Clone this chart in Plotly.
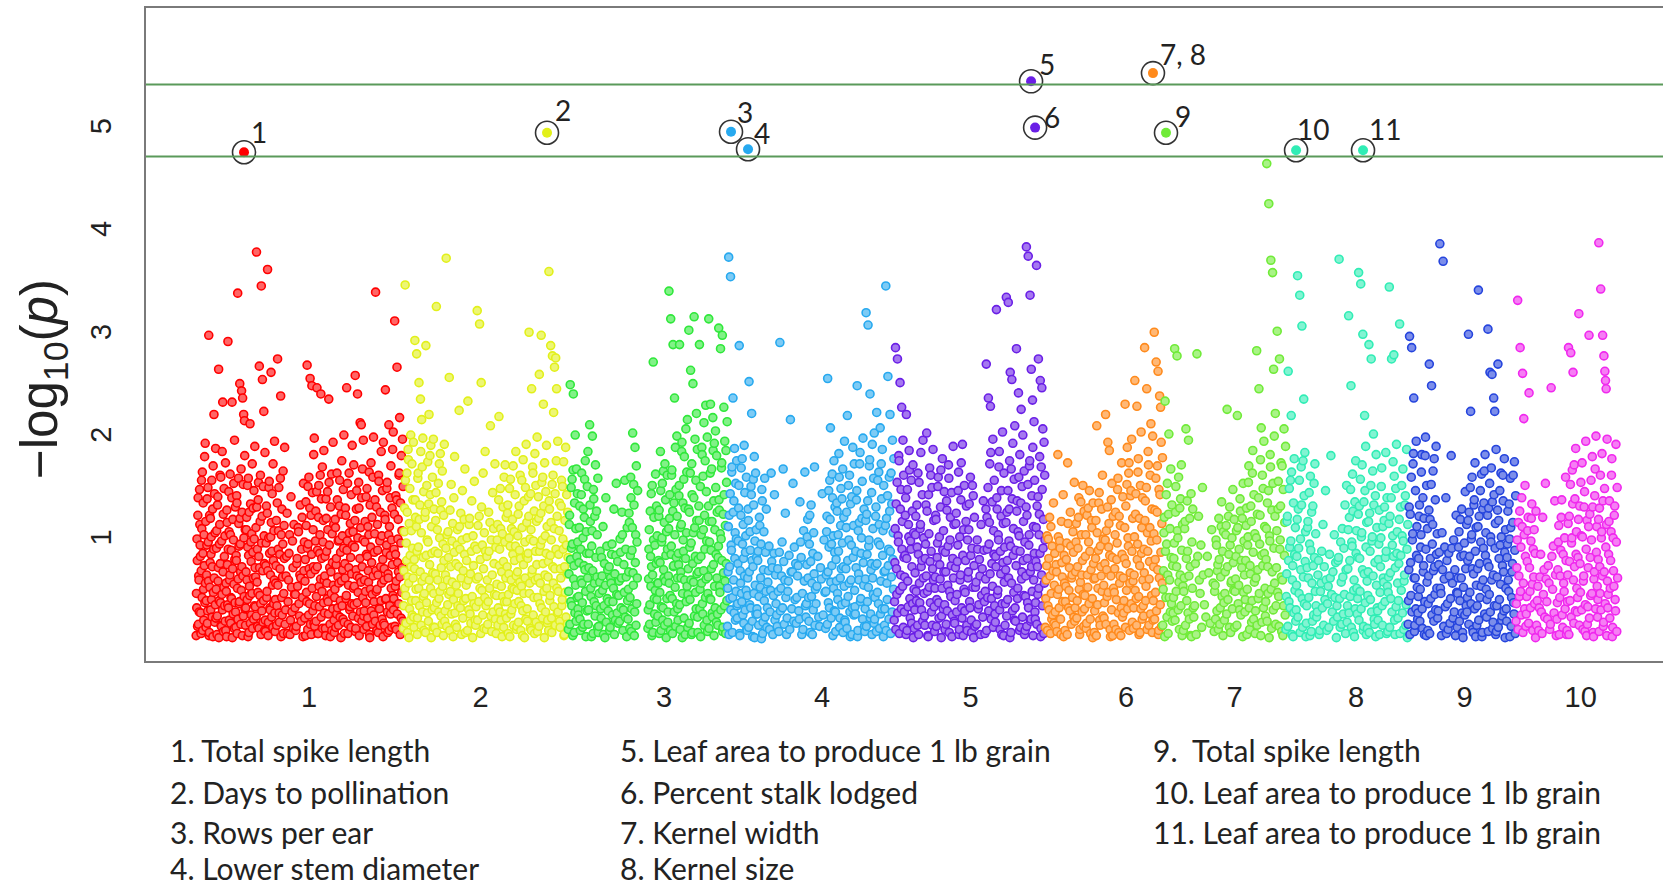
import numpy as np
import plotly.graph_objects as go

# ---------------- data ----------------
chrom_names = ["1", "2", "3", "4", "5", "6", "7", "8", "9", "10"]
chrom_len_mb = [307.0, 244.4, 235.7, 247.0, 223.9, 174.0, 182.4, 181.1, 159.8, 151.0]
chrom_colors = ["#FF0000", "#E2F01A", "#2FE83A", "#27A9EF", "#6A1FE6",
                "#FF8A1C", "#70EB38", "#30EDB5", "#2544DD", "#F028EE"]
tick_pos_mb = [167.4, 421.6, 693.3, 927.4, 1147.4, 1377.8, 1538.5, 1718.5, 1879.4, 2051.3]

# -log10(p) values per chromosome, grouped into consecutive position bins
chr1_bins = [
    [.04,.31,.77,1.21,.15,.58,1.46,.92,.26,.67,1.08,.41,1.63,.09,.84,1.33,.49,.19,1.02,.72,1.78,.36,1.91,.55,1.15],
    [.12,.63,1.37,.28,.95,2.96,.07,.51,1.18,.83,.39,1.55,.22,.71,1.27,.03,1.69,.46,.88,2.19,.6,1.42,.17,1.04,.34,1.86],
    [.21,.89,.05,1.31,.57,2.63,.38,1.12,.74,1.58,.13,.96,.44,1.83,.29,2.31,.66,1.22,.08,.51,1.47,.81,.33,1.01,.18,1.72],
    [.09,.47,1.26,.73,2.9,.31,1.05,.58,1.61,.16,.87,.4,1.38,2.31,.02,.69,1.17,.25,.97,1.52,.54,.11,1.94,.78,.36,1.29],
    [.27,.82,1.4,.06,3.37,.59,1.13,.35,2.49,.93,.15,1.66,.48,2.42,.71,1.24,.04,2.35,.62,1.51,.23,2.19,.99,.42,2.13,1.79,.3,1.07],
    [.14,.66,1.19,.39,.9,1.57,.07,.52,2.1,1.32,.76,.24,1.03,.45,1.71,.11,.85,1.28,.6,.2,1.45,.98,.33,1.88,.7],
    [.32,1.09,3.77,.56,.13,1.36,.81,2.66,.43,1.6,.05,3.44,.94,.28,1.2,2.53,.67,.17,1.49,.38,2.22,1.01,.74,.09,1.82],
    [.19,.72,1.3,.47,3.6,.04,.99,1.54,.31,.63,2.6,1.14,.22,.86,1.42,.53,.12,1.71,.77,.35,1.06,.58,1.93,.26],
    [.08,.55,1.16,.33,2.73,.88,1.48,.17,.69,2.37,1.02,.41,1.27,.24,.61,.93,1.64,.06,.45,1.11,.79,1.87],
    [.15,.62,1.23,.37,.84,.05,1.39,.51,.27,.96,.7,.11,1.12,.44],
    [.31,.09,.74,.52,1.05,.23,1.31,.6,.18,.88,1.19,.41,.03,1.52,.67,.95],
    [.21,.78,1.34,.46,2.67,.1,.93,1.58,.35,2.54,.64,1.21,.05,.83,2.47,.5,1.43,.28,1.07,.71,1.8,.16,1.96],
    [.13,.68,1.25,.42,2.45,.87,.06,1.5,.32,1.02,.59,2.39,.22,1.37,.79,.47,1.68,.11,.95,1.16,.36,1.84,.58],
    [.26,.81,.04,1.18,.55,1.44,.37,2.34,.92,.15,1.29,.66,.45,1.61,.09,1.03,.75,.3,1.92,.53,1.12,.19],
    [.07,.49,1.09,.73,.25,1.36,.61,.14,.97,1.55,.38,.85,.02,1.22,.57,1.74,.33,1.01,.68,.2,1.46,.89,1.99],
    [.17,.74,1.28,.4,2.45,.96,.06,.53,1.62,.29,1.13,.8,.12,1.41,.64,.35,1.89,.92,.23,1.05,.5,1.7],
    [.34,.9,2.57,.11,1.27,.62,2.39,.46,1.53,.04,.79,2.11,.27,1.09,.56,2.09,1.38,.18,.71,1.66,.41,.97,1.94,.23],
    [.1,.58,1.15,.36,.83,1.47,.21,.67,1.02,.05,1.31,.49,.9,1.72,.28,.75,1.19,.44,.15,1.58,.62,1.97],
    [.24,.85,1.36,3.38,.47,.09,1.12,.63,1.6,.31,.96,.14,1.24,.71,.38,1.83,.55,1.01,.2,1.45,.78,.03,1.92],
    [.16,.69,1.21,2.43,.4,.92,1.53,.07,.6,2.09,1.1,.33,1.38,.82,.25,1.69,.5,.97,.12,1.28,.73,1.85,.43,2.02],
    [.29,.88,3.1,.52,1.4,.1,2.65,.75,1.17,.35,1.62,2.16,.61,.05,1.33,.94,.21,1.79,.46,1.06,.7,1.95,.18,1.49],
]
chr1_extra = [
    [.45,.98,.13,1.38,.62,.27,1.12,.81,.06,1.55], [.38,.92,.16,1.48,.57,.04,1.21,.75,.29,1.0],
    [.49,1.06,.23,1.39,.7,.02,.93,1.6,.36,.14], [.55,.03,1.14,.34,.88,1.44,.19,.63,1.02,.41],
    [.12,.77,1.33,.5,.2,1.57,.91,.37,1.18,.66], [.31,1.07,.58,1.5,.03,.82,1.24,.43,.16,.95],
    [.61,.23,1.29,.88,.46,1.53,.11,.7,1.15,.35], [.08,.94,.41,1.23,.67,.17,1.48,.84,.29,1.0],
    [.39,.72,.14,1.33,.53,1.06,.26,.83,1.57,.03], [.29,.81,.06,.58,1.02,.19],
    [.44,.13,.79,1.09,.35,.63], [.57,.04,1.11,.37,.89,1.49,.24,.69,1.28,.15],
    [.33,.96,.18,1.44,.71,.06,1.19,.52,.84,1.6], [.62,.11,1.37,.86,.4,1.07,.25,1.53,.7,.03],
    [.41,1.17,.12,.79,1.62,.31,.96,.55,1.3,.22], [.06,.6,1.21,.43,.87,1.52,.15,.7,1.04,.32],
    [.52,1.16,.08,.68,1.45,.36,.99,.21,1.28,.6], [.28,.95,.47,1.39,.13,.81,1.1,.56,1.63,.02],
    [.37,1.03,.18,.67,1.29,.49,.87,.07,1.54,.3], [.58,.14,1.17,.39,.85,1.47,.27,.64,1.02,.09],
    [.4,1.22,.13,.83,.57,1.36,.25,.98,.66,1.6],
]
chr2_bins = [
    [.11,.67,1.28,3.45,.43,.94,1.62,.07,1.85,.55,1.13,.3,1.47,.82,.19,1.99,.71,1.06,.38,1.71,.24,.89,1.36,.6,1.92],
    [.22,.78,2.91,1.19,.49,2.78,.05,1.57,.9,2.5,.33,1.31,.66,2.34,1.83,.14,1.04,2.14,.57,1.68,.27,1.96,.8,.42,1.44],
    [.09,.61,1.24,2.86,.36,.97,1.73,.18,2.19,.73,1.41,.5,1.89,.02,1.1,.84,.29,1.58,.65,.12,1.95,.45,1.27],
    [.31,.86,1.16,3.24,.07,.58,1.52,.4,.99,1.81,.23,.7,1.34,.15,1.64,.52,.93,.04,1.21,.77,1.9],
    [.18,.63,3.71,1.02,.34,.8,2.55,.09,1.26,.47,.71,1.51,.25,.96,.56,1.13,.03,.39,1.38,.85,1.78],
    [.26,.74,.12,1.07,.45,2.23,.88,.31,1.23,.6,.05,.97,1.45,.21,.67,.38,1.17,.83,1.66],
    [.07,.53,.99,2.32,.29,1.18,.64,.16,.86,1.35,.42,.02,1.01,.72,.35,1.54,.91,.19],
    [.14,.59,3.2,1.11,.37,3.07,.78,.06,2.5,1.29,.48,.92,.24,1.62,.69,.11,1.04,.41,1.83,.86],
    [.33,.81,.15,1.24,.5,2.08,.97,.08,.63,1.43,.27,1.08,.74,.44,1.71,.2,.9],
    [.06,.54,1.12,.31,2.17,.88,1.47,.19,.66,1.03,.42,1.29,.76,.12,1.58,.37,.95,1.7,.25,.6,1.19],
    [.21,.71,1.31,.44,.99,.03,1.56,.58,.29,1.17,.83,1.69,.14,.49,1.05,.77,.35,1.41,.91,1.83,.62,.1],
    [.13,.66,1.22,.37,.87,1.6,.09,.52,1.09,.28,1.75,.73,.45,1.35,.02,.95,.6,1.48,.2,1.9,.81,1.14],
    [.3,.79,1.39,2.99,.55,.11,1.07,2.44,.68,1.62,.24,.96,.41,1.25,.06,1.81,.58,.86,1.5,.17,1.15,.73,1.97],
    [.08,.6,1.18,2.58,.35,.92,2.96,1.53,.21,.74,2.29,1.3,.47,.02,1.72,.63,1.01,.27,1.44,.84,1.89,.5,1.1,.16],
    [.19,.76,3.58,1.27,.43,2.86,.97,.07,2.76,1.6,.55,2.21,.32,1.08,2.65,.69,1.42,.14,2.74,.88,1.74,2.44,.5,1.2,.26,1.93],
    [.27,.83,1.33,.12,.6,1.55,.39,.98,1.73,.05,.71,1.16,.46,1.87,.22,.92,1.41,.64,.15,1.24,.8],
]
chr2_extra = [
    [.33,1.05,.5,1.55,.16,.77,1.24,.61,1.75,.02], [.12,.69,1.36,.38,1.1,.86,.21,1.62,.5,1.17],
    [.45,1.19,.07,.82,1.5,.26,.95,1.32,.58,1.79], [.12,.64,1.43,.36,1.07,.84,.27,1.71,.47,1.26],
    [.28,.89,.13,.58,1.05,.44], [.15,.53,.92,.33,.71,1.1], [.4,.77,.09,.58,1.12,.25],
    [.32,.88,.19,.61,1.2,.5], [.1,.58,.37,.86,1.14,.23], [.43,.97,.14,1.36,.72,.27,1.08,.52,.03],
    [.37,1.23,.06,.64,1.47,.91,.25,1.08,.5], [.48,1.01,.17,1.3,.56,.79,.33,1.55,.04],
    [.18,.84,1.2,.45,.98,1.42,.09,.64,1.68], [.41,1.39,.13,.86,.55,1.23,.31,.97,1.58],
    [.61,.09,1.35,.38,.82,1.14,.21,1.51,.71], [.47,1.06,.18,.69,1.3,.33,1.49,.88,.04],
]
chr3_bins = [
    [.1,.64,1.21,2.48,.37,.89,1.56,.04,2.39,.72,1.33,.26,1.99,.53,1.08,.18,1.66,.81,.41,1.42,.95,.3],
    [.24,.75,1.3,.09,.58,1.62,.36,.99,.15,1.19,.68,1.74,.47,.03,1.05,.84,.28,1.49,.6,1.83],
    [.15,.7,2.09,1.15,.42,.91,1.98,.06,1.37,.55,.23,1.7,.8,.33,1.25,.61,1.02,.12,1.57],
    [.07,.45,.86,.21,.62,1.1,.33,.74,.02,.53,1.38,.17,.91,.4,.68],
    [.28,.71,.12,.55,.93,.37,1.27,.05,.64,.19,.82,1.52,.44,.26,.76],
    [.16,.57,.98,.31,1.24,.09,.73,.46,1.55,.22,.88,.61,.03,1.09,.38],
    [.2,.66,1.14,.41,1.58,.08,.87,2.01,.53,1.31,.27,1.87,.75,1.02,.14,1.69,.35,.95,.6,1.45],
    [],
    [.11,.59,1.07,.34,.81,1.42,.04,.63,2.7,1.19,.25,.92,.48,1.61,.17,.74,1.3,.39,1.01,.55],
    [.23,.77,1.26,.46,1.83,.09,.95,1.52,.31,.68,1.14,.14,1.71,.57,1.36,.82,.02,1.05,.4,1.6,.88],
    [.17,.62,3.39,1.18,.43,3.12,.91,1.65,.06,2.87,.72,1.33,.27,2.35,1.02,.51,1.87,.13,1.46,.8,.35,1.98,1.2,.6],
    [.3,.84,1.4,2.87,.1,.66,1.12,1.92,.45,.97,1.56,.21,1.78,.58,1.28,.05,.79,2.05,.37,1.04,1.63,.52,2.14],
    [.12,.69,3.01,1.24,.39,2.62,.94,1.71,.07,2.49,.56,1.38,3.14,.23,1.09,1.95,.81,.46,1.55,.3,2.2,1.16,.64,1.85],
    [.22,.78,1.3,2.87,.49,.03,1.02,1.87,.35,1.59,.67,2.11,.14,1.21,.88,1.74,.41,2.28,.59,1.44,.96,.19,1.97],
    [.08,.61,3.12,1.15,.4,2.29,.87,1.66,.26,2.16,.73,1.35,.04,1.91,.52,1.07,.31,2.03,1.48,.83,.17,1.79,.6,1.24],
    [.25,.8,3.03,1.26,.46,2.83,.98,1.72,2.96,.12,.65,2.26,1.41,.33,1.93,.57,1.11,.06,1.84,.74,1.53,.38,2.12],
]
chr3_extra = [
    [.47,1.12,.15,.78,1.48,.33,.93,1.65,.59,.07], [.42,1.09,.2,.88,1.41,.55,.12,1.27,.72,1.56],
    [.29,.84,1.31,.5,.03,1.06,.67,1.46,.37,1.2], [.13,.56,.3,.8,.48,.05], [.37,.09,.6,.83,.24,.5],
    [.43,.18,.85,.6,1.02,.29], [.49,1.23,.11,.82,1.38,.3,1.09,.65,1.51,.04], [],
    [.29,.88,.15,1.25,.52,.71,1.5,.07,.97,.4], [.55,1.2,.06,.75,1.45,.32,.99,.19,1.64,.6],
    [.27,1.08,.55,1.41,.09,.83,1.6,.4,1.25,.71], [.19,.73,1.5,.34,1.09,.6,1.83,.02,1.33,.86],
    [.44,1.27,.16,.9,1.62,.58,.05,1.41,.74,1.04], [.07,.66,1.16,.3,1.49,.81,.55,1.8,.25,1.07],
    [.45,1.3,.11,.95,1.62,.39,.69,1.15,.22,1.84], [.14,.91,1.36,.52,1.03,.29,1.67,.77,.08,1.22],
]
chr4_bins = [
    [.13,.66,3.72,1.21,.4,3.53,.92,1.63,.07,2.35,.58,1.35,.26,1.86,.79,1.04,.19,1.52,.47,.98,1.74,.33],
    [.21,.74,1.28,2.86,.04,.55,1.67,.37,.93,1.12,.16,1.89,.62,1.43,.29,.85,1.01,.48,1.58,.1],
    [.09,.6,1.16,2.51,.34,.87,1.49,2.2,.18,.71,1.31,.45,1.78,.02,.96,.53,1.62,.25,1.07,.8],
    [.3,.77,.14,1.19,.51,.93,1.46,.06,.68,1.05,.38,1.57,.22,.85,.47,1.27],
    [.12,.56,.91,.27,1.62,.7,.05,.43,.84,1.41,.19,.63,.35],
    [.24,.69,.08,2.89,.5,.95,.31,1.66,.76,.15,.58,1.23,.41],
    [.05,.47,.82,2.14,.3,.66,1.52,.18,.9,.39,.74],
    [.16,.62,.28,1.34,.8,.45,.1,1.06,.57,1.63,.33],
    [.22,.73,1.17,.41,.93,.07,1.31,.55,.84,.29,1.04,.64,1.68,.14,.49],
    [.35,.81,.13,.59,1.42,.24,.97,.46],
    [.11,.63,1.2,2.54,.36,.9,1.55,2.06,.21,.72,1.38,.04,1.01,.5,1.74,.28,.85,1.29],
    [.27,.78,1.33,.45,1.02,1.81,.12,.6,1.47,.34,.94,1.66,.07,.71,1.19,.52,1.93,.19],
    [.17,.69,1.24,2.18,.42,.97,1.6,.03,.58,1.39,.31,1.87,.8,1.11,.24,1.71,.48],
    [.32,.86,1.36,2.47,.09,.64,1.14,1.82,.4,.99,1.54,.2,1.96,.75,.53,1.27,.13],
    [.08,.59,3.18,1.22,.37,3.06,.91,1.69,2.39,.25,.74,1.43,.05,1.9,.6,1.08,.44,1.57,.16,2.01],
    [.2,.72,1.29,2.21,.46,.95,1.63,.11,2.06,.57,1.37,.3,1.85,.82,1.06,.03,1.5,.66],
    [.14,.67,3.44,1.18,.39,2.56,.88,1.58,2.19,.06,.61,1.32,.27,1.94,.78,1.04,.49,1.76],
]
chr4_extra = [
    [.5,1.1,.05,.71,1.42,.29,.87,1.68,.41,1.24], [.35,.96,1.5,.06,.67,1.21,.45,1.76,.24,.79],
    [.43,1.27,.12,.66,1.05,.31,1.41,.77,.03,1.56], [.25,.86,.42,1.11,.6,.01,1.35,.17],
    [.31,.67,.1,.48,.76], [.13,.47,.85,.28,.62], [.21,.57,.1,.66], [.41,.72,.2,.95,.05],
    [.35,1.0,.6,.18,1.21,.76,.42,.05], [.52,.22,.7],
    [.47,1.05,.15,.66,1.45,.31,1.17,.56,.93,1.61], [.08,.57,1.25,.39,.86,1.58,.21,1.11,.69,1.37],
    [.36,1.09,.11,.77,1.5,.55,.27,1.32,.92,.05], [.25,.7,1.45,.03,1.06,.58,1.71,.37,.84,1.18],
    [.3,1.16,.13,.83,1.35,.51,.97,1.75,.21,.68], [.41,1.2,.08,.74,1.55,.35,1.12,.92,.25,1.71],
    [.3,1.11,.09,.55,1.4,.72,.2,1.25,.86,1.62],
]
chr5_bins = [
    [.19,.75,2.84,1.32,.44,2.73,1.01,1.79,.06,2.5,.63,1.46,.3,2.26,.88,1.15,.52,1.94,.12,1.6,.8],
    [.27,.82,1.38,2.19,.09,.57,1.12,1.84,.4,.96,1.55,.16,.71,1.25,.35,1.7,.02,1.04,.49],
    [.11,.65,1.2,.38,.9,1.62,.05,.55,1.08,1.82,.29,.77,1.41,.18,1.94,.6,.99,.45],
    [.23,.79,1.31,2.01,.47,.03,1.03,1.67,.36,.86,1.48,.14,.69,1.85,.58,1.16,.32],
    [.08,.61,1.17,.39,.94,1.58,.21,.73,1.29,.02,.5,1.76,.87,.3,1.06,.66,1.44],
    [.34,.85,.15,1.26,.53,1.7,.07,.97,.42,1.43,.24,.79,1.88,.6,1.12,.18],
    [.16,.7,1.23,.44,.92,1.63,.1,.58,1.36,.31,1.9,.82,.04,1.07,.49,1.5],
    [.28,.77,1.3,.09,.6,1.07,.37,1.58,.19,.89,.51,1.4,.02,.72,1.19],
    [.13,.56,.97,.3,.78,.05,1.12,.43,.69,.22,1.35,.87,.37],
    [.06,.59,2.68,1.19,.41,2.35,.93,1.71,2.27,.2,.74,1.34,.52,1.95,.12,1.06,.83,1.55,.33],
    [.25,.81,3.21,1.27,.48,.97,1.83,.1,.64,1.45,.35,2.02,.75,1.13,.04,1.62,.56,.9],
    [.14,.68,3.33,1.24,.39,3.28,.96,1.74,2.6,.07,.55,2.53,1.37,.28,1.91,.82,1.08,.46,1.56,.19,2.08],
    [.31,.87,2.83,1.35,.5,2.4,1.01,1.8,.12,2.24,.66,1.49,.22,1.99,.77,1.15,.43,1.64,.05,.95],
    [.09,.62,3.82,1.21,.36,3.73,.92,1.69,3.35,.18,2.63,.71,1.4,.47,2.33,1.87,.04,1.1,.58,2.12,.84,1.55,.27],
    [.2,.76,3.64,1.3,.44,2.73,1.02,1.78,2.52,.11,.63,2.45,1.46,.33,2.05,.89,1.17,.06,1.92,.55,1.6,.97],
]
chr5_extra = [
    [.37,1.08,.1,.69,1.53,.26,.95,1.74,.48,1.27], [.61,1.21,.05,.79,1.46,.32,1.0,1.65,.21,.88],
    [.29,1.02,.47,1.31,.14,.83,1.53,.36,1.12,.71], [.14,.93,.62,1.25,.04,1.41,.51,.76,1.6,.27],
    [.5,1.21,.13,.8,1.49,.36,1.0,.59,1.65,.23], [.1,.66,1.35,.28,.91,1.57,.47,1.19,.72,.03],
    [.38,1.13,.27,.76,1.45,.05,1.0,.63,1.72,.21], [.46,1.15,.14,.97,.66,1.32,.31,.82,.07,1.5],
    [.51,.15,.88,.34,.62], [.47,1.27,.09,.88,1.48,.28,1.14,.64,1.82,.4],
    [.17,.71,1.38,.44,1.02,1.68,.29,.86,1.2,.05], [.35,1.14,.23,.77,1.45,.6,1.27,.02,.91,1.66],
    [.18,.72,1.25,.4,1.05,1.58,.09,.86,1.33,.59], [.42,1.29,.13,.79,1.51,.31,1.02,1.74,.66,.2],
    [.36,1.09,.15,.71,1.39,.5,1.22,.84,.03,1.68],
]
chr6_bins = [
    [.12,.58,1.01,.33,.79,1.19,.06,.45,.91,.24,.67,1.33,.16,.53,.84],
    [.27,.73,.08,1.8,.49,.96,.2,1.15,.61,.37,1.41,.03,.82,.55],
    [.09,.52,.94,1.72,.31,.7,1.24,.15,.63,.41,1.05,.85,.22,1.53],
    [.18,.66,1.13,.38,.89,1.38,.05,.56,1.02,.27,.77,1.5,.44,.13,1.25],
    [.3,.81,.11,1.21,.51,.95,1.45,.2,.68,1.09,.4,.02,1.33,.74,.59],
    [.07,.6,1.16,2.08,.34,.87,1.43,.14,.71,1.27,.47,1.6,.23,.98,.53],
    [.21,.74,2.19,1.06,.42,1.92,.9,1.84,.1,.62,1.36,.29,1.52,.8,.04,1.2,.5],
    [.15,.69,1.24,.39,.94,1.57,.07,.55,1.11,.31,1.72,.83,.22,1.39,.6],
    [.26,.79,2.29,1.3,.48,1.87,.99,1.62,.09,.65,1.45,.35,1.95,.86,.17,1.18,.57],
    [.11,.63,2.52,1.22,.4,2.27,.93,1.76,.05,.72,1.5,.3,2.02,.84,1.09,.2,1.38,.58],
    [.33,.88,2.84,1.35,.52,2.44,1.04,1.83,.14,.76,1.6,.25,2.1,.96,.43,1.27,.07,1.98],
    [.19,.71,2.99,1.26,.46,2.7,.97,1.69,2.61,.09,.6,2.37,1.41,.34,2.26,.85,1.92,.13,1.13,.55,1.77],
]
chr6_extra = [
    [.4,.72,.09,.98,.29,.62,1.1,.2], [.14,.66,.44,1.0,.31,.89,.05,.75], [.37,.78,.05,1.13,.48,.28,.91,.6],
    [.31,.95,.21,.71,1.19,.49,.1,1.34,.63], [.43,1.02,.16,.63,1.28,.35,.86,.06,1.16],
    [.28,.79,.04,1.04,.5,1.33,.19,.91,.62], [.36,.97,.15,.68,1.29,.46,1.13,.82,.03],
    [.46,1.02,.1,.78,1.46,.26,1.2,.62,.04], [.38,1.09,.12,.74,1.51,.3,.91,1.72,.55,1.4],
    [.31,1.0,.48,1.42,.14,.78,1.63,.42,1.18,.07], [.23,.65,1.16,.38,1.48,.1,.86,1.7,.59,1.09],
    [.38,1.03,.2,.78,1.57,.28,1.24,.68,.05,1.46],
]
chr7_bins = [
    [.14,.67,1.19,2.32,.41,.93,1.52,.06,2.0,.58,1.08,.27,1.66,.8,.35,1.31,.18,.72],
    [.26,.79,2.83,1.24,.47,2.76,.99,1.58,.1,.63,1.37,.33,1.7,.87,.04,1.12,.52],
    [.09,.6,1.15,2.05,.38,.86,1.94,.2,.71,1.42,.03,.95,.5,1.27,.31],
    [.22,.74,2.78,1.2,.45,.92,.12,1.48,.63],
    [.34,.81,.16,1.07,.55],
    [.08,.53,.97,.28,.73,1.18,.15,.61,1.34,.42,.86,.04,1.05,.36],
    [.19,.66,1.11,2.24,.39,.83,1.29,.07,.57,.99,.3,1.46,.75,.48,1.17],
    [.12,.59,1.06,2.18,.35,.88,1.37,.24,.7,1.18,.03,1.52,.46,.96,.63],
    [.27,.77,1.28,.49,1.0,1.69,.1,.64,1.15,.38,1.84,.85,.2,1.41,.56,1.03],
    [.06,.6,2.81,1.22,.4,2.44,.93,1.75,2.06,.17,.72,1.47,.31,1.93,.84,1.1,.5],
    [.23,.78,4.63,1.33,.45,4.24,1.01,1.8,3.69,.11,.66,3.57,1.52,.29,2.63,.89,1.98,.55,1.2,2.2],
    [.15,.7,3.0,1.27,.42,2.73,.97,1.72,.08,.58,1.46,.33,2.05,.82,1.14,.24,1.88],
]
chr7_extra = [
    [.49,1.04,.03,.86,1.41,.22,.63,1.22,.41], [.41,.94,.19,1.49,.71,1.06,.29,.56,1.28],
    [.47,1.08,.14,.79,1.35,.26,.62,1.18,.04], [.33,.05,.81,.58], [.22,.65],
    [.47,.2,.92,.67,.1,.78,.31,1.1], [.45,1.02,.25,.71,1.2,.12,.92,.55],
    [.47,.81,.14,1.09,.53,.29,1.25,.77], [.39,1.11,.05,.92,1.53,.31,.72,1.3,.17,1.62],
    [.28,.99,.14,.68,1.38,.45,1.21,.04,.82,1.6], [.37,1.08,.18,.71,1.45,.02,.96,1.68,.49,1.26],
    [.33,1.06,.46,1.54,.13,.88,1.3,.61,1.69,.04],
]
chr8_bins = [
    [.1,.64,1.2,2.61,.37,.9,1.55,2.18,.05,.72,1.33,.26,1.76,.83,.48,1.09,.18],
    [.29,.81,3.54,1.27,.45,3.35,.98,1.68,3.05,.12,.61,2.34,1.4,.35,1.82,.76,1.05,.03],
    [.16,.7,1.15,.41,.93,1.59,.08,.55,1.3,.24,.8,1.71,.47,1.03,.33],
    [.22,.63,.05,.47,.86,.31,1.12,.14,.71,.39,1.45,.58],
    [.09,.52,.83,1.79,.27,.66,.18,1.02,.41,.75,.02],
    [.33,.77,3.7,.12,.56,1.08,.25,.89,.44,1.31,.06,.68,1.5],
    [.17,.69,3.15,1.19,.42,2.47,.95,1.61,.07,.58,1.34,.3,1.74,.84,1.06,.5],
    [.25,.8,3.57,1.3,.47,3.46,1.0,1.7,2.97,.13,.64,2.18,1.45,.36,1.88,.9,.05,1.14,.57],
    [.11,.66,2.87,1.23,.39,2.73,.96,1.64,2.0,.2,.75,1.4,.03,1.8,.53,1.09,.31],
    [.28,.78,1.26,.46,.99,1.67,.14,.6,1.16,.37,1.82,.86,.06,1.38,.52],
    [.08,.61,3.43,1.2,.4,2.73,.92,1.73,2.77,.19,.7,1.47,.32,1.9,.84,1.05,.55],
    [.21,.74,3.07,1.29,.48,1.01,1.66,.1,.63,1.4,.34,1.85,.88,.02,1.12],
]
chr8_extra = [
    [.42,1.15,.13,.77,1.47,.31,.96,1.63,.58,.03], [.53,1.17,.22,.89,1.55,.07,.68,1.31,.4,1.74],
    [.33,1.09,.6,1.43,.04,.87,1.24,.18,.72,1.52], [.27,.77,.09,.55], [.35,.12,.6,.44],
    [.22,.8,.4,.95,.15,.61], [.33,1.07,.26,.77,1.46,.12,.91,1.25,.48,.03],
    [.4,1.22,.19,.79,1.56,.3,1.04,.68,.09,1.34], [.43,1.15,.07,.86,1.5,.27,1.0,.62,1.31,.15],
    [.19,.93,.05,.71,1.49,.33,1.1,.56,1.29,.8], [.46,1.13,.12,.65,1.38,.27,1.01,.81,1.59,.05],
    [.38,1.17,.06,.82,1.5,.26,.96,.57,1.31,.14],
]
chr9_bins = [
    [.15,.68,2.95,1.22,.43,2.84,.97,1.71,2.35,.08,.6,1.45,.3,1.93,.82,1.1,.51,.2],
    [.26,.79,1.31,.49,1.02,1.8,.11,.66,1.18,.37,1.97,.88,.04,1.5,.56,1.08],
    [.09,.62,2.68,1.17,.4,2.47,.93,1.64,.18,.71,1.36,.29,1.88,.83,.5,1.03],
    [.21,.73,3.85,.45,1.04,3.68,.13,.59,.9,.32,1.38,.06,.77],
    [.35,.84,.16,1.79,.55,.97,.27,.68,.04,1.21,.46],
    [.12,.6,1.05,.38,.81,1.27,.07,.51,.94,.24,1.44,.69,.33,1.12],
    [.27,.77,2.97,1.24,.46,2.22,.98,1.58,.1,.64,1.36,.3,1.72,.86,.03,1.09,.53],
    [.14,.69,3.4,1.2,.41,.95,1.61,.07,.58,1.33,.25,1.8,.82,1.04,.49],
    [.22,.75,3.02,1.28,.44,2.6,1.0,1.67,2.58,.11,.63,2.35,1.41,.33,2.22,.89,1.13,.05,1.85],
    [.08,.61,2.68,1.16,.39,.92,1.62,.19,.72,1.35,.28,1.76,.85,.02,1.07,.5],
    [.3,.8,1.25,.47,.98,1.57,.13,.66,1.14,.36,1.73,.87,.06,1.4],
]
chr9_extra = [
    [.38,1.29,.05,.75,1.58,.27,1.03,1.81,.6,.14], [.42,1.2,.18,.9,1.63,.3,1.38,.72,.05,1.79],
    [.35,1.26,.06,.79,1.51,.24,1.12,.67,1.76,.44], [.28,.85,.5,.04,.68], [.1,.62,.4,.89,.21],
    [.45,.9,.18,1.17,.6,.26,.02,.82], [.41,1.16,.15,.81,1.48,.35,1.02,.69,.07,1.31],
    [.33,1.1,.19,.74,1.45,.52,.03,1.27,.89,1.64], [.39,1.21,.08,.71,1.52,.27,.95,.58,1.34,.17],
    [.33,1.26,.12,.79,1.45,.54,1.0,.23,1.6,.66], [.18,.93,.58,1.32,.03,1.09,.41,.74,1.6,.25],
]
chr10_bins = [
    [.18,.7,3.3,1.14,.42,2.84,.9,1.38,2.59,.07,.55,2.15,1.02,.3,1.5,.81,.13],
    [.25,.76,1.19,2.4,.47,.96,1.32,.09,.61,1.07,.35,.84,.02,1.25],
    [.14,.52,.31,.83,.06,1.19,.44,.68,.22,1.52,.59],
    [.37,.72,.1,2.45,.49,.91,.26,1.35,.63,.04],
    [.2,.68,1.11,.41,.87,1.36,.12,.55,.99,.3,1.58,.77,.05],
    [.09,.63,2.84,1.2,.38,2.79,.94,1.65,2.6,.16,.71,1.37,.28,1.86,.83,1.05,.5],
    [.27,.8,3.17,1.3,.46,1.01,1.72,.1,.62,1.44,.34,1.93,.88,.04,1.16],
    [.15,.7,2.96,1.22,.43,.97,1.78,.07,.59,1.4,.3,1.98,.85,1.1,.52],
    [.22,.78,3.86,1.28,.45,3.41,.99,1.81,2.96,.13,2.76,.66,1.47,2.61,.35,2.52,.9,2.44,1.12,.04,1.95,.57],
    [.31,.83,1.35,.5,1.05,1.76,.12,.67,1.21,.39,1.9,.95,.08,1.48,.6],
]
chr10_extra = [
    [.35,.97,.1,.62,1.25,.47,.24,1.1], [.42,1.06,.16,.7,.31,1.18,.54,.88], [.38,.09,.61,.27],
    [.2,.55,.15,.81], [.36,.95,.05,.62,1.19,.24,.83,.47], [.37,1.13,.05,.76,1.51,.22,.99,1.32,.58,1.7],
    [.41,1.17,.14,.74,1.53,.29,1.0,.57,1.29,.08], [.32,1.1,.21,.8,1.55,.45,1.29,.03,.66,1.66],
    [.39,1.17,.08,.71,1.6,.29,1.05,.62,1.35,.17], [.44,1.15,.21,.77,1.6,.03,.99,.52,1.3,.28],
]

thresholds = [5.40, 4.70]

hit_chrom = [1, 2, 4, 4, 5, 5, 6, 7, 8, 8]
hit_pos_mb = [71.1, 213.0, 5.5, 30.7, 203.0, 209.0, 159.7, 5.0, 15.3, 114.5]
hit_logp = [4.74, 4.93, 4.94, 4.77, 5.43, 4.98, 5.51, 4.93, 4.76, 4.76]
hit_labels = ["1", "2", "3", "4", "5", "6", "7, 8", "9", "10", "11"]

legend_col1 = ["1. Total spike length", "2. Days to pollination",
               "3. Rows per ear", "4. Lower stem diameter"]
legend_col2 = ["5. Leaf area to produce 1 lb grain", "6. Percent stalk lodged",
               "7. Kernel width", "8. Kernel size"]
legend_col3 = ["9.\u00a0 Total spike length",
               "10. Leaf area to produce 1 lb grain",
               "11. Leaf area to produce 1 lb grain"]

# ---------------- styling / layout constants ----------------
W, H = 1663, 888
ML, MR, MT, MB = 146, 0, 8, 227
X_RANGE = [-74.1, 2173.3]
Y_RANGE = [-0.207, 6.143]
hit_label_dx = [15, 16, 14, 14, 16, 17, 30, 17, 17, 22]
hit_label_dy = [20, 23, 20, 16, 17, 11, 19, 17, 21, 21]
legend_cols_x = [168, 618, 1151]
legend_rows_y = [750, 792, 832, 868]


def tint(hexcol, f):
    h = hexcol.lstrip("#")
    r, g, b = int(h[0:2], 16), int(h[2:4], 16), int(h[4:6], 16)
    r = int(r + (255 - r) * f)
    g = int(g + (255 - g) * f)
    b = int(b + (255 - b) * f)
    return f"rgb({r},{g},{b})"


def interleave(a, b):
    out = []
    for i in range(max(len(a), len(b))):
        if i < len(a):
            out.append(a[i])
        if i < len(b):
            out.append(b[i])
    return out


chrom_bins = [chr1_bins, chr2_bins, chr3_bins, chr4_bins, chr5_bins,
              chr6_bins, chr7_bins, chr8_bins, chr9_bins, chr10_bins]
chrom_extra = [chr1_extra, chr2_extra, chr3_extra, chr4_extra, chr5_extra,
               chr6_extra, chr7_extra, chr8_extra, chr9_extra, chr10_extra]
offsets = np.concatenate([[0.0], np.cumsum(chrom_len_mb)[:-1]])

fig = go.Figure()

for c, (bins, extra) in enumerate(zip(chrom_bins, chrom_extra)):
    xs, ys = [], []
    bw = chrom_len_mb[c] / len(bins)
    for b, vals in enumerate(bins):
        merged = interleave(vals, extra[b])
        n = len(merged)
        for j, v in enumerate(merged):
            xs.append(offsets[c] + (b + (j + 0.5) / n) * bw)
            ys.append(v)
    fig.add_trace(go.Scatter(
        x=xs, y=ys, mode="markers", hoverinfo="skip", showlegend=False,
        marker=dict(symbol="circle", size=8, color=tint(chrom_colors[c], 0.4),
                    line=dict(color=chrom_colors[c], width=1.6)),
    ))

for t in thresholds:
    fig.add_hline(y=t, line=dict(color="#5a9a5a", width=2))

hx = [offsets[c - 1] + p for c, p in zip(hit_chrom, hit_pos_mb)]
hcols = [chrom_colors[c - 1] for c in hit_chrom]
fig.add_trace(go.Scatter(
    x=hx, y=hit_logp, mode="markers", hoverinfo="skip", showlegend=False,
    marker=dict(symbol="circle", size=10, color=hcols, line=dict(width=0)),
))
fig.add_trace(go.Scatter(
    x=hx, y=hit_logp, mode="markers", hoverinfo="skip", showlegend=False,
    marker=dict(symbol="circle-open", size=23, color="#333333", line=dict(width=1.6)),
))

annotations = []
for xv, yv, lab, dx, dy in zip(hx, hit_logp, hit_labels, hit_label_dx, hit_label_dy):
    annotations.append(dict(x=xv, y=yv, xref="x", yref="y", text=lab, showarrow=False,
                            xanchor="center", yanchor="middle", xshift=dx, yshift=dy,
                            font=dict(family="Lato", size=28, color="#222222")))

pw = W - ML - MR
ph = H - MT - MB


def px_to_paper(px, py):
    return (px - ML) / pw, (H - MB - py) / ph


for col_x, col in zip(legend_cols_x, [legend_col1, legend_col2, legend_col3]):
    for row_y, txt in zip(legend_rows_y, col):
        xp, yp = px_to_paper(col_x, row_y)
        annotations.append(dict(x=xp, y=yp, xref="paper", yref="paper", text=txt,
                                showarrow=False, xanchor="left", yanchor="middle",
                                font=dict(family="Lato", size=30, color="#222222")))

xp, yp = px_to_paper(43, 379)
annotations.append(dict(x=xp, y=yp, xref="paper", yref="paper",
                        text="\u2212log<sub>10</sub>(<i>p</i>)", showarrow=False,
                        textangle=-90, xanchor="center", yanchor="middle",
                        font=dict(family="Liberation Sans", size=51, color="#222222")))

fig.update_layout(
    width=W, height=H,
    margin=dict(l=ML, r=MR, t=MT, b=MB, pad=0),
    paper_bgcolor="white", plot_bgcolor="white",
    showlegend=False,
    annotations=annotations,
    xaxis=dict(range=X_RANGE, tickmode="array", tickvals=tick_pos_mb, ticktext=chrom_names,
               showgrid=False, zeroline=False, showline=True, mirror=True,
               linecolor="#7a7a7a", linewidth=2, ticks="",
               ticklabelstandoff=9,
               tickfont=dict(family="Liberation Sans", size=29, color="#222222")),
    yaxis=dict(range=Y_RANGE, tickmode="array", tickvals=[1, 2, 3, 4, 5],
               ticktext=["1", "2", "3", "4", "5"],
               showgrid=False, zeroline=False, showline=True, mirror=False,
               linecolor="#7a7a7a", linewidth=2, ticks="", tickangle=-90,
               ticklabelstandoff=21, ticklabelshift=5,
               tickfont=dict(family="Liberation Sans", size=29, color="#222222")),
)

fig.write_html("out.html")
